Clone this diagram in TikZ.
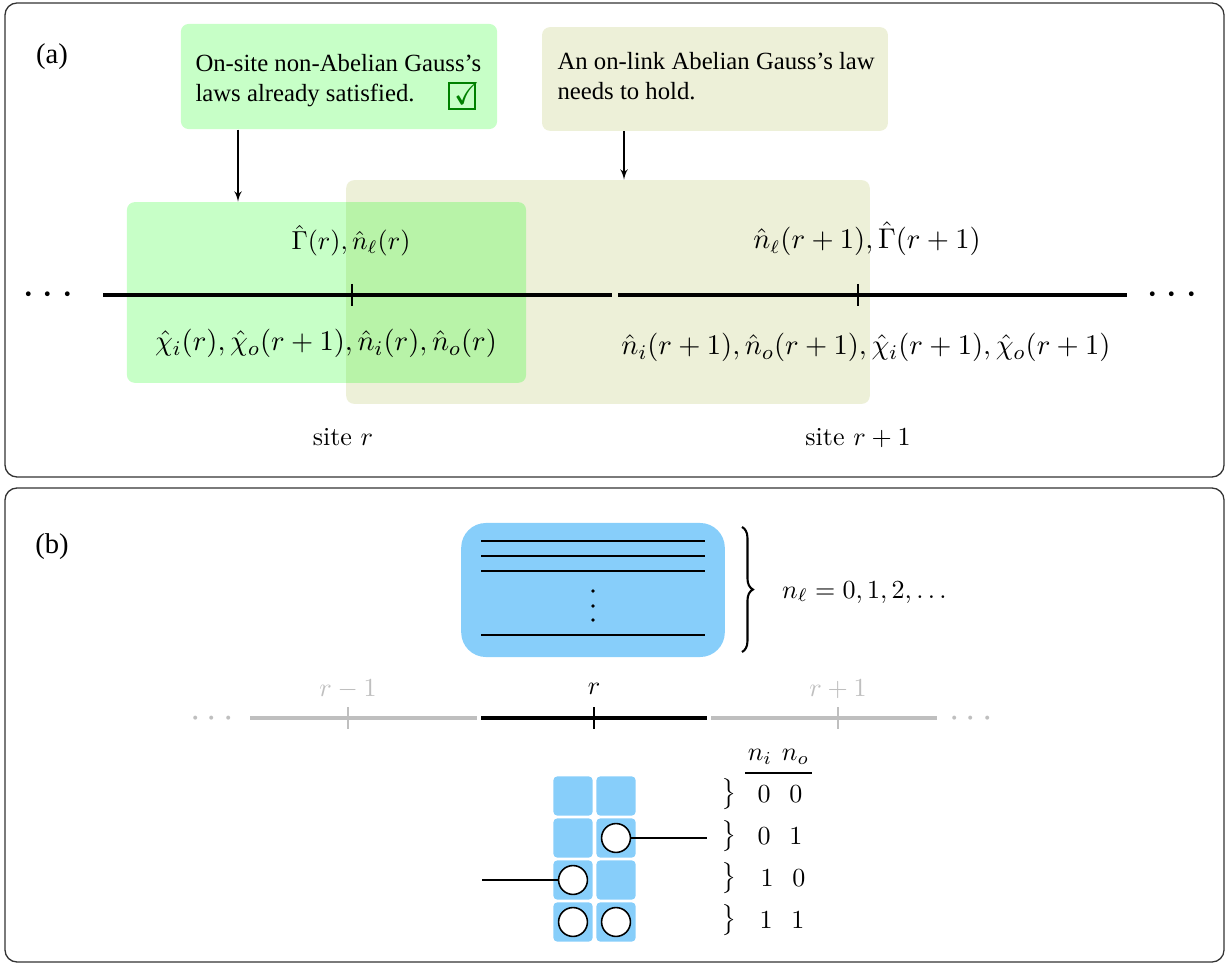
\documentclass[tikz,border=0pt]{standalone}
\usepackage{amssymb}
\usepackage{amsmath}
\usepackage{fontspec}
\usepackage{tikz}
\usetikzlibrary{calc, arrows, decorations.pathreplacing}
\newfontfamily\tnr{Liberation Serif}
\definecolor{linkbg}{RGB}{237,240,216}
\definecolor{levbg}{RGB}{135,206,250}
\definecolor{chkgreen}{RGB}{0,128,0}
\tikzstyle{frame}=[draw=black!80, line width=0.5pt, rounded corners=4.6pt]
\tikzstyle{tag}=[font=\tnr\fontsize{11}{13}\selectfont]
\tikzstyle{bg}=[rectangle, rounded corners=3pt, inner sep=0pt]
\tikzstyle{note}=[align=left, inner sep=0pt, font=\tnr\fontsize{9.5}{11.5}\selectfont]
\tikzstyle{big}=[font=\fontsize{11}{13}\selectfont]
\tikzstyle{axis}=[line width=1.2pt]
\tikzstyle{tick}=[line width=0.5pt]
\tikzstyle{cell}=[rectangle, rounded corners=1.5pt, fill=levbg, minimum size=0.53cm, inner sep=0pt]
\tikzstyle{occ}=[circle, draw, line width=0.6pt, fill=white, minimum size=0.39cm, inner sep=0pt]

\begin{document}
\begin{tikzpicture}[x=0.0135cm,y=-0.0135cm,>=latex']
  \useasboundingbox (0,0) rectangle (1231,965);
  % (a)
  \draw [frame] (5,3) rectangle (1224,477);
  \node [tag] (pa) at (52,57) {(a)};
  \node [bg, fill=linkbg, minimum width=7.07cm, minimum height=3.02cm] (ob) at (608,292) {};
  \node [bg, fill=green, fill opacity=0.22, minimum width=5.39cm, minimum height=2.44cm] (gb) at (326.5,292.5) {};
  \node [bg, fill=green, fill opacity=0.22, minimum width=4.27cm, minimum height=1.42cm] (nb1) at (339,76.5) {};
  \node [bg, fill=linkbg, minimum width=4.67cm, minimum height=1.40cm] (nb2) at (715,79) {};
  \node [note, anchor=west] (t1) at (195,81) {On-site non-Abelian Gauss’s\\laws already satisfied.};
  \node [note, anchor=west] (t2) at (557,76.5) {An on-link Abelian Gauss’s law\\needs to hold.};
  \node [draw=chkgreen, line width=0.6pt, minimum size=0.35cm, inner sep=0pt] (chk) at (462,96) {};
  \node [text=chkgreen, font=\large, inner sep=0pt] (ck) at (467,94) {$\checkmark$};
  \coordinate (x1) at (238,0);
  \coordinate (x2) at (624,0);
  \draw [->] (nb1.south -| x1) -- (gb.north -| x1);
  \draw [->] (nb2.south -| x2) -- (ob.north -| x2);
  \coordinate (l0) at (103,295);
  \coordinate (l1) at (612,295);
  \coordinate (l2) at (618,295);
  \coordinate (l3) at (1127,295);
  \draw [axis] (l0) -- (l1);
  \draw [axis] (l2) -- (l3);
  \draw [tick] (352,295) ++(0,-11) -- ++(0,22);
  \draw [tick] (858,295) ++(0,-11) -- ++(0,22);
  \node [font=\fontsize{16.5}{20}\selectfont, anchor=base] (d0) at (52,306) {$\cdots$};
  \node [font=\fontsize{16.5}{20}\selectfont, anchor=base] (d1) at (1176,306) {$\cdots$};
  \node [anchor=base] (g0) at (351,250) {$\hat{\Gamma}(r), \hat{n}_\ell(r)$};
  \node [big, anchor=base] (g1) at (326,351) {$\hat{\chi}_i(r), \hat{\chi}_o(r+1), \hat{n}_i(r), \hat{n}_o(r)$};
  \node [font=\fontsize{10.6}{12}\selectfont, anchor=base] (g2) at (867,249) {$\hat{n}_\ell(r+1), \hat{\Gamma}(r+1)$};
  \node [big, anchor=base] (g3) at (866,355) {$\hat{n}_i(r+1), \hat{n}_o(r+1), \hat{\chi}_i(r+1), \hat{\chi}_o(r+1)$};
  \node [anchor=base] (s0) at (343,446) {site $r$};
  \node [anchor=base] (s1) at (858,446) {site $r+1$};
  % (b)
  \draw [frame] (5,488) rectangle (1224,962);
  \node [tag] (pb) at (52,547) {(b)};
  \node [bg, fill=levbg, rounded corners=9.5pt, minimum width=3.56cm, minimum height=1.81cm] (lb) at (593,590) {};
  \draw [line width=0.7pt] (481,541) -- (705,541) (481,556) -- (705,556) (481,571) -- (705,571) (481,635) -- (705,635);
  \fill (593,591) circle (0.7pt) (593,606) circle (0.7pt) (593,620) circle (0.7pt);
  \draw [decorate, decoration={brace, amplitude=4.2pt}, line width=0.8pt] (742,527) -- (742,652);
  \node [anchor=base west] (nl) at (773,598) {$n_\ell = 0, 1, 2, \dots$};
  \coordinate (m0) at (250,718);
  \coordinate (m1) at (477,718);
  \coordinate (m2) at (481,718);
  \coordinate (m3) at (707,718);
  \coordinate (m4) at (711,718);
  \coordinate (m5) at (937,718);
  \draw [axis, draw=black!25] (m0) -- (m1);
  \draw [axis] (m2) -- (m3);
  \draw [axis, draw=black!25] (m4) -- (m5);
  \draw [tick, draw=black!25] (348,718) ++(0,-11) -- ++(0,22);
  \draw [tick] (594,718) ++(0,-11) -- ++(0,22);
  \draw [tick, draw=black!25] (838,718) ++(0,-11) -- ++(0,22);
  \node [anchor=base, text=black!25] (q0) at (348,696) {$r-1$};
  \node [anchor=base] (q1) at (594,694) {$r$};
  \node [anchor=base, text=black!25] (q2) at (838,696) {$r+1$};
  \node [font=\Large, text=black!25, anchor=base] (e0) at (215,727) {$\cdots$};
  \node [font=\Large, text=black!25, anchor=base] (e1) at (974,727) {$\cdots$};
  \node [cell] (c1) at (573,796) {};
  \node [cell] (c2) at (616,796) {};
  \node [cell] (c3) at (573,838) {};
  \node [cell] (c4) at (616,838) {};
  \node [cell] (c5) at (573,880) {};
  \node [cell] (c6) at (616,880) {};
  \node [cell] (c7) at (573,922) {};
  \node [cell] (c8) at (616,922) {};
  \node [occ] (o1) at (c4) {};
  \node [occ] (o2) at (c5) {};
  \node [occ] (o3) at (c7) {};
  \node [occ] (o4) at (c8) {};
  \coordinate (z1) at (707,838);
  \coordinate (z2) at (482,880);
  \draw [line width=0.6pt] (o1.east) -- (z1);
  \draw [line width=0.6pt] (o2.west) -- (z2);
  \node (h0) at (760,757) {$n_i$};
  \node (h1) [right of=h0, node distance=0.48cm] {$n_o$};
  \draw [line width=0.5pt] (745,773) -- (812,773);
  \node (b1) at (729,794) {$\big\}$};
  \node (b2) at (729,836) {$\big\}$};
  \node (b3) at (729,878) {$\big\}$};
  \node (b4) at (729,920) {$\big\}$};
  \node (v1) at (764,794) {$0$};
  \node (w1) [right of=v1, node distance=0.43cm] {$0$};
  \node (v2) at (764,836) {$0$};
  \node (w2) [right of=v2, node distance=0.43cm] {$1$};
  \node (v3) at (767,878) {$1$};
  \node (w3) [right of=v3, node distance=0.43cm] {$0$};
  \node (v4) at (766,920) {$1$};
  \node (w4) [right of=v4, node distance=0.43cm] {$1$};
\end{tikzpicture}
\end{document}
